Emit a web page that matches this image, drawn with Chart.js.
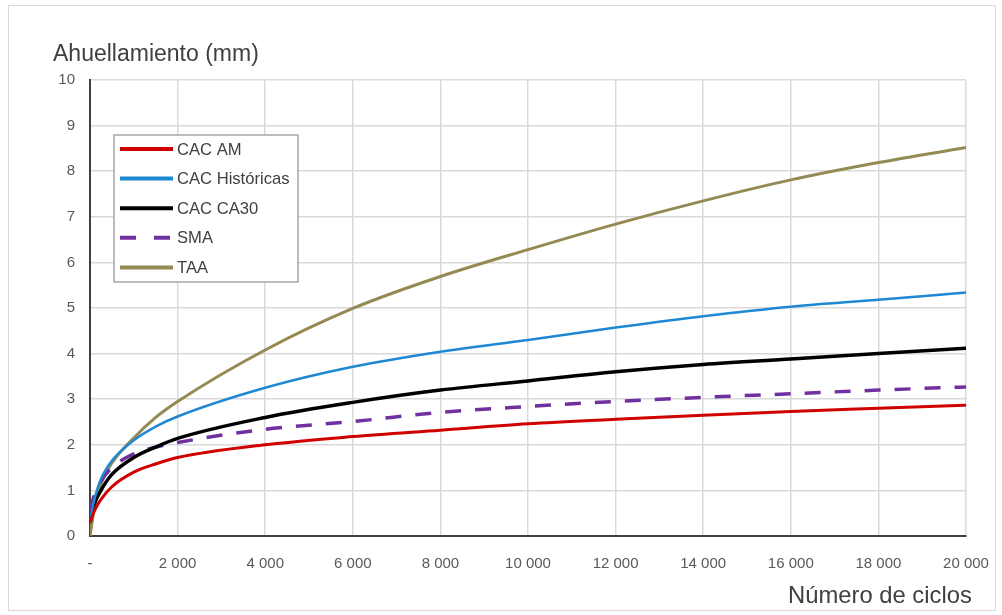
<!DOCTYPE html>
<html>
<head>
<meta charset="utf-8">
<script src="https://cdn.jsdelivr.net/npm/chart.js@4.4.1/dist/chart.umd.min.js"></script>
<style>
  body { margin: 0; background: #fff; }
  #wrap { position: relative; width: 1002px; height: 615px; }
  #frame { position: absolute; left: 8px; top: 5px; width: 988px; height: 606px; border: 1px solid #d9d9d9; box-sizing: border-box; }
  #myChart { position: absolute; left: 0; top: 0; }
</style>
</head>
<body>
<div id="wrap">
  <div id="frame"></div>
  <canvas id="myChart" width="1002" height="615"></canvas>
</div>
<script>
'use strict';

// ciclos (eje x)
let cycles = [0, 100, 250, 500, 1000, 1500, 2000, 4000, 6000, 8000, 10000, 12000, 14000, 16000, 18000, 20000];

let seriesNames = ['CAC AM', 'CAC Históricas', 'CAC CA30', 'SMA', 'TAA'];

let cacAM       = [0.3, 0.55, 0.8, 1.08, 1.4, 1.58, 1.72, 2.0, 2.18, 2.32, 2.46, 2.56, 2.65, 2.73, 2.80, 2.87];
let cacHist     = [0.35, 0.8, 1.25, 1.65, 2.1, 2.4, 2.62, 3.25, 3.71, 4.04, 4.3, 4.57, 4.82, 5.03, 5.18, 5.34];
let cacCA30     = [0.3, 0.7, 1.0, 1.35, 1.72, 1.95, 2.14, 2.6, 2.93, 3.2, 3.4, 3.6, 3.76, 3.88, 4.0, 4.12];
let sma         = [0.55, 0.9, 1.2, 1.5, 1.8, 1.95, 2.05, 2.34, 2.51, 2.71, 2.84, 2.95, 3.04, 3.12, 3.2, 3.27];
let taa         = [0, 0.6, 1.15, 1.6, 2.15, 2.6, 2.95, 4.08, 4.99, 5.69, 6.28, 6.84, 7.35, 7.81, 8.19, 8.52];

let yTitle = 'Ahuellamiento (mm)';
let xTitle = 'Número de ciclos';

let fontFamily = '"Liberation Sans", Arial, sans-serif';

function toPoints(values) {
    return cycles.map((c, i) => ({ x: c, y: values[i] }));
}

function fmtCycles(v) {
    if (v === 0) return '-';
    return (v / 1000) + ' 000';
}

// titulos de ejes y leyenda dentro del area
let overlay = {
    id: 'overlay',
    afterDraw(chart) {
        let ctx = chart.ctx;
        ctx.save();
        ctx.fillStyle = '#404040';
        ctx.textBaseline = 'middle';
        ctx.textAlign = 'left';
        ctx.font = '23px ' + fontFamily;
        ctx.fillText(yTitle, 53, 55);
        ctx.font = '23.8px ' + fontFamily;
        ctx.fillText(xTitle, 788, 596);

        // caja de leyenda
        let bx = 114, by = 135, bw = 184, bh = 147;
        ctx.fillStyle = '#fff';
        ctx.fillRect(bx, by, bw, bh);
        ctx.strokeStyle = '#a6a6a6';
        ctx.lineWidth = 1.5;
        ctx.strokeRect(bx, by, bw, bh);

        ctx.font = '16.6px ' + fontFamily;
        chart.data.datasets.forEach((ds, i) => {
            let yy = 149 + i * 29.6;
            ctx.beginPath();
            ctx.strokeStyle = ds.borderColor;
            ctx.lineWidth = 4;
            ctx.setLineDash(ds.borderDash ? [16, 18] : []);
            ctx.moveTo(120, yy);
            ctx.lineTo(173, yy);
            ctx.stroke();
            ctx.setLineDash([]);
            ctx.fillStyle = '#404040';
            ctx.fillText(ds.label, 177, yy + 1);
        });
        ctx.restore();
    }
};

let lineStyles = [
    { color: '#d00000', width: 3 },
    { color: '#1f88d4', width: 2.5 },
    { color: '#000000', width: 3.5 },
    { color: '#7030a0', width: 3.5, dash: [16, 14] },
    { color: '#948a54', width: 3 }
];

let allSeries = [cacAM, cacHist, cacCA30, sma, taa];

let datasets = allSeries.map((vals, i) => ({
    label: seriesNames[i],
    data: toPoints(vals),
    borderColor: lineStyles[i].color,
    backgroundColor: lineStyles[i].color,
    borderWidth: lineStyles[i].width,
    borderDash: lineStyles[i].dash,
    pointRadius: 0,
    cubicInterpolationMode: 'monotone',
    fill: false
}));

let ctx = document.getElementById('myChart').getContext('2d');
let myChart = new Chart(ctx, {
    type: 'line',
    data: { datasets: datasets },
    options: {
        responsive: false,
        animation: false,
        devicePixelRatio: 1,
        layout: { padding: { top: 80, right: 36, left: 0, bottom: 0 } },
        plugins: {
            legend: { display: false },
            tooltip: { enabled: false }
        },
        scales: {
            x: {
                type: 'linear',
                min: 0,
                max: 20000,
                afterFit: s => { s.height = 79; s.paddingRight = 0; s.paddingLeft = 0; },
                afterBuildTicks: s => {
                    s.ticks = [];
                    for (let v = 0; v <= 20000; v += 2000) s.ticks.push({ value: v });
                },
                ticks: {
                    callback: v => fmtCycles(v),
                    padding: 19,
                    color: '#595959',
                    font: { family: fontFamily, size: 15 },
                    maxRotation: 0,
                    autoSkip: false
                },
                grid: { color: '#d9d9d9', lineWidth: 1.5, drawTicks: false },
                border: { color: '#404040', width: 2 }
            },
            y: {
                min: 0,
                max: 10,
                afterFit: s => { s.width = 90; s.paddingTop = 0; s.paddingBottom = 0; },
                ticks: {
                    stepSize: 1,
                    padding: 15,
                    color: '#595959',
                    font: { family: fontFamily, size: 15 }
                },
                grid: { color: '#d9d9d9', lineWidth: 1.5, drawTicks: false },
                border: { color: '#404040', width: 2 }
            }
        }
    },
    plugins: [overlay]
});
</script>
</body>
</html>
